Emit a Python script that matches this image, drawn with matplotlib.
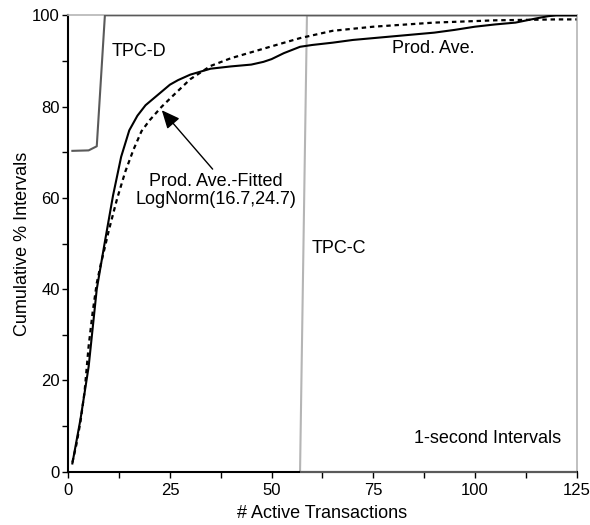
import matplotlib
matplotlib.use("Agg")
import matplotlib.pyplot as plt

plt.rcParams['font.family'] = ['Liberation Sans', 'DejaVu Sans']

# Prod. Ave. (solid)
prod_x = [1, 3, 5, 7, 9, 11, 13, 15, 17, 19, 21, 23, 25, 27, 30, 35, 40, 45, 48, 50,
          53, 57, 60, 65, 70, 75, 80, 85, 90, 95, 100, 105, 110, 115, 118, 120, 125]
prod_y = [1.8, 11.5, 23, 40, 50.4, 60.5, 69, 74.8, 78, 80.3, 81.8, 83.3, 84.8, 85.8, 87.0, 88.3,
          88.8, 89.2, 89.8, 90.4, 91.7, 93.1, 93.5, 94.0, 94.6, 95.0, 95.4, 95.8, 96.2, 96.8,
          97.5, 98.0, 98.4, 99.3, 99.8, 100, 100]

# Prod. Ave.-Fitted LogNorm (dashed)
fit_x = [1, 2, 3, 4, 5, 6, 7, 8, 9, 10, 12, 14, 16, 18, 20, 23, 26, 30, 35, 40, 45, 50,
         57, 65, 75, 90, 105, 120, 125]
fit_y = [2, 6, 11, 17.5, 27.5, 35, 41.3, 45.5, 49.2, 53, 59.8, 65.7, 70.5, 74.6, 77, 80,
         82.6, 86, 88.9, 90.6, 91.9, 93.2, 95.0, 96.6, 97.5, 98.4, 98.9, 99.1, 99.1]

# TPC-D
tpcd_x = [1, 5, 7, 9, 125]
tpcd_y = [70.3, 70.4, 71.3, 100, 100]

# TPC-C
tpcc_x = [57, 58.7, 125]
tpcc_y = [0, 100, 100]

x_ticks = [0, 25, 50, 75, 100, 125]
y_ticks = [0, 20, 40, 60, 80, 100]

fig = plt.figure(figsize=(5.9, 5.25), dpi=100)
ax = fig.add_axes([68.3 / 590, 1 - 471.7 / 525, (576.5 - 68.3) / 590, (471.7 - 15.3) / 525])

ax.plot(tpcc_x, tpcc_y, color='#b5b5b5', lw=1.5, zorder=2)
ax.plot(tpcd_x, tpcd_y, color='#5a5a5a', lw=1.5, zorder=3)
ax.hlines(0, tpcc_x[0], x_ticks[-1], color='#5a5a5a', lw=1.5, zorder=3, clip_on=False)
ax.plot(fit_x, fit_y, color='black', lw=1.6, dashes=(2.0, 1.7), zorder=4)
ax.plot(prod_x, prod_y, color='black', lw=1.5, zorder=5)

ax.set_xlim(0, 125)
ax.set_ylim(0, 100)
ax.set_xticks(x_ticks)
ax.set_yticks(y_ticks)
ax.set_xticks([12.5, 37.5, 62.5, 87.5, 112.5], minor=True)
ax.set_yticks([10, 30, 50, 70, 90], minor=True)
ax.tick_params(which='both', direction='out', length=4, width=1, labelsize=12, colors='black')
ax.tick_params(axis='x', pad=4)
ax.tick_params(axis='y', pad=2)

for s in ['left', 'bottom']:
    ax.spines[s].set_color('black')
    ax.spines[s].set_linewidth(1.5)
for s in ['top', 'right']:
    ax.spines[s].set_color('#b5b5b5')
    ax.spines[s].set_linewidth(1.2)

ax.set_xlabel('# Active Transactions', fontsize=13, labelpad=5)
ax.set_ylabel('Cumulative % Intervals', fontsize=13, labelpad=1)

ax.text(10.7, 92, 'TPC-D', fontsize=13, ha='left', va='center')
ax.text(79.6, 92.7, 'Prod. Ave.', fontsize=13, ha='left', va='center')
ax.text(59.9, 48.9, 'TPC-C', fontsize=13, ha='left', va='center')
ax.text(121.2, 7.3, '1-second Intervals', fontsize=13, ha='right', va='center')
ax.text(36.4, 61.6, 'Prod. Ave.-Fitted\nLogNorm(16.7,24.7)', fontsize=13,
        ha='center', va='center', linespacing=1.08)
ax.annotate('', xy=(23.0, 79.2), xytext=(35.5, 66.3),
            arrowprops=dict(arrowstyle='-|>,head_length=0.85,head_width=0.38',
                            color='black', lw=1, mutation_scale=13,
                            shrinkA=0, shrinkB=0))

fig.savefig('out.png', dpi=100)
